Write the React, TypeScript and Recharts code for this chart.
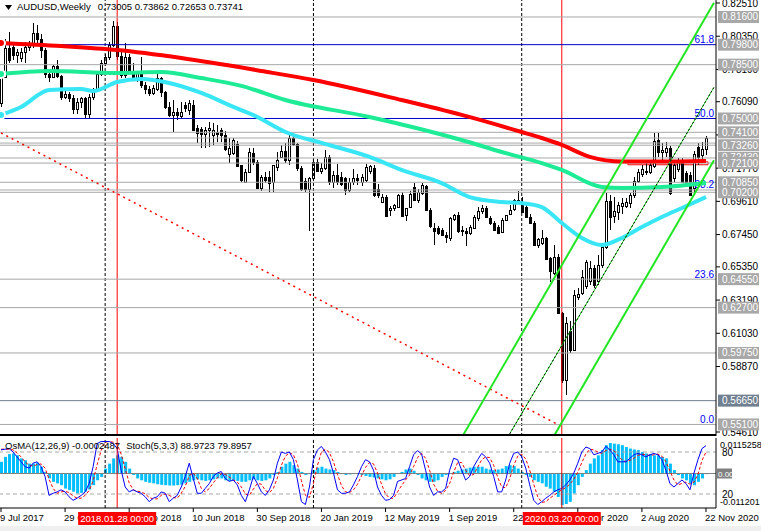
import React from 'react';
import { ComposedChart, Bar, Line, XAxis, YAxis, ReferenceLine, ReferenceArea } from 'recharts';

// weekly AUDUSD candles, Jul 2017 .. Nov 2020
const opens = [
  0.7600, 0.7770, 0.7960, 0.7965, 0.7915, 0.7895, 0.7935, 0.7965, 0.7985, 0.8055,
  0.8020, 0.7945, 0.7790, 0.7770, 0.7840, 0.7775, 0.7640, 0.7660, 0.7630, 0.7560,
  0.7610, 0.7630, 0.7530, 0.7640, 0.7690, 0.7790, 0.7860, 0.7900, 0.7980, 0.8100,
  0.7905, 0.7780, 0.7900, 0.7800, 0.7755, 0.7795, 0.7720, 0.7690, 0.7665, 0.7690,
  0.7760, 0.7670, 0.7575, 0.7525, 0.7540, 0.7515, 0.7585, 0.7555, 0.7585, 0.7435,
  0.7430, 0.7400, 0.7425, 0.7390, 0.7415, 0.7425, 0.7395, 0.7270, 0.7275, 0.7335,
  0.7195, 0.7090, 0.7155, 0.7275, 0.7220, 0.7045, 0.7120, 0.7120, 0.7090, 0.7185,
  0.7250, 0.7290, 0.7230, 0.7370, 0.7335, 0.7180, 0.7095, 0.7040, 0.7110, 0.7220,
  0.7160, 0.7175, 0.7250, 0.7090, 0.7135, 0.7120, 0.7110, 0.7035, 0.7090, 0.7110,
  0.7090, 0.7100, 0.7160, 0.7180, 0.7040, 0.6960, 0.6990, 0.6905, 0.6920, 0.6925,
  0.7000, 0.6870, 0.6925, 0.7055, 0.6970, 0.7015, 0.7060, 0.6905, 0.6785, 0.6785,
  0.6775, 0.6740, 0.6720, 0.6845, 0.6875, 0.6775, 0.6770, 0.6755, 0.6790, 0.6850,
  0.6900, 0.6915, 0.6851, 0.6818, 0.6796, 0.6764, 0.6840, 0.6880, 0.6910, 0.6970,
  0.6955, 0.6925, 0.6862, 0.6820, 0.6680, 0.6690, 0.6720, 0.6590, 0.6495, 0.6600,
  0.6235, 0.5800, 0.6115, 0.5995, 0.6340, 0.6365, 0.6410, 0.6440, 0.6525, 0.6440,
  0.6545, 0.6665, 0.6965, 0.6865, 0.6890, 0.6930, 0.6930, 0.6950, 0.7000, 0.7095,
  0.7140, 0.7160, 0.7150, 0.7190, 0.7360, 0.7280, 0.7285, 0.7305, 0.7110, 0.7170,
  0.7215, 0.7145, 0.7130, 0.7045, 0.7315, 0.7260, 0.7300,
];
const highs = [
  0.7785, 0.8020, 0.8060, 0.7990, 0.7950, 0.7960, 0.7995, 0.8005, 0.8120, 0.8110,
  0.8050, 0.7960, 0.7800, 0.7850, 0.7880, 0.7785, 0.7680, 0.7675, 0.7650, 0.7630,
  0.7640, 0.7640, 0.7660, 0.7700, 0.7810, 0.7880, 0.7920, 0.8000, 0.8135, 0.8130,
  0.7930, 0.7990, 0.7920, 0.7860, 0.7810, 0.7900, 0.7740, 0.7710, 0.7720, 0.7815,
  0.7770, 0.7680, 0.7610, 0.7620, 0.7570, 0.7610, 0.7605, 0.7620, 0.7620, 0.7455,
  0.7445, 0.7445, 0.7480, 0.7470, 0.7460, 0.7440, 0.7420, 0.7370, 0.7370, 0.7355,
  0.7200, 0.7170, 0.7310, 0.7310, 0.7230, 0.7130, 0.7150, 0.7160, 0.7200, 0.7280,
  0.7330, 0.7340, 0.7390, 0.7395, 0.7340, 0.7190, 0.7110, 0.7120, 0.7235, 0.7235,
  0.7210, 0.7295, 0.7260, 0.7160, 0.7205, 0.7150, 0.7120, 0.7110, 0.7170, 0.7140,
  0.7140, 0.7205, 0.7200, 0.7195, 0.7075, 0.7010, 0.7000, 0.6930, 0.6945, 0.7010,
  0.7020, 0.6920, 0.7030, 0.7080, 0.7040, 0.7080, 0.7070, 0.6915, 0.6820, 0.6800,
  0.6790, 0.6760, 0.6860, 0.6880, 0.6895, 0.6800, 0.6790, 0.6810, 0.6870, 0.6925,
  0.6935, 0.6930, 0.6865, 0.6830, 0.6810, 0.6850, 0.6875, 0.6935, 0.6975, 0.7030,
  0.6990, 0.6935, 0.6880, 0.6830, 0.6725, 0.6775, 0.6730, 0.6600, 0.6680, 0.6620,
  0.6240, 0.6210, 0.6180, 0.6385, 0.6400, 0.6515, 0.6580, 0.6570, 0.6545, 0.6615,
  0.6680, 0.7015, 0.7005, 0.6990, 0.6960, 0.6985, 0.6985, 0.7015, 0.7120, 0.7170,
  0.7200, 0.7210, 0.7215, 0.7405, 0.7405, 0.7340, 0.7350, 0.7320, 0.7210, 0.7245,
  0.7240, 0.7160, 0.7150, 0.7290, 0.7340, 0.7350, 0.7386,
];
const lows = [
  0.7575, 0.7760, 0.7860, 0.7880, 0.7860, 0.7870, 0.7860, 0.7940, 0.7960, 0.7990,
  0.7895, 0.7765, 0.7735, 0.7760, 0.7760, 0.7620, 0.7625, 0.7610, 0.7530, 0.7530,
  0.7570, 0.7500, 0.7505, 0.7620, 0.7680, 0.7775, 0.7840, 0.7880, 0.7965, 0.7880,
  0.7760, 0.7760, 0.7790, 0.7745, 0.7740, 0.7700, 0.7660, 0.7645, 0.7650, 0.7680,
  0.7640, 0.7560, 0.7510, 0.7415, 0.7490, 0.7500, 0.7540, 0.7525, 0.7420, 0.7340,
  0.7310, 0.7305, 0.7315, 0.7330, 0.7350, 0.7350, 0.7290, 0.7210, 0.7260, 0.7185,
  0.7085, 0.7080, 0.7150, 0.7195, 0.7040, 0.7030, 0.7080, 0.7020, 0.7020, 0.7160,
  0.7240, 0.7210, 0.7200, 0.7320, 0.7160, 0.7030, 0.7020, 0.6765, 0.7100, 0.7150,
  0.7140, 0.7165, 0.7070, 0.7050, 0.7070, 0.7060, 0.7005, 0.7020, 0.7070, 0.7070,
  0.7060, 0.7090, 0.7140, 0.6990, 0.6985, 0.6950, 0.6865, 0.6865, 0.6900, 0.6915,
  0.6860, 0.6830, 0.6915, 0.6965, 0.6950, 0.7000, 0.6900, 0.6790, 0.6680, 0.6740,
  0.6735, 0.6690, 0.6700, 0.6830, 0.6755, 0.6735, 0.6670, 0.6740, 0.6780, 0.6830,
  0.6880, 0.6850, 0.6810, 0.6770, 0.6750, 0.6755, 0.6830, 0.6870, 0.6900, 0.6945,
  0.6885, 0.6855, 0.6815, 0.6675, 0.6660, 0.6680, 0.6580, 0.6435, 0.6480, 0.6230,
  0.5780, 0.5700, 0.5975, 0.5990, 0.6320, 0.6350, 0.6390, 0.6420, 0.6400, 0.6420,
  0.6530, 0.6650, 0.6775, 0.6820, 0.6840, 0.6880, 0.6920, 0.6920, 0.6985, 0.7080,
  0.7120, 0.7130, 0.7140, 0.7180, 0.7250, 0.7210, 0.7250, 0.7005, 0.7090, 0.7150,
  0.7080, 0.7060, 0.6995, 0.7005, 0.7200, 0.7225, 0.7265,
];
const closes = [
  0.7770, 0.7960, 0.7880, 0.7915, 0.7930, 0.7935, 0.7965, 0.7985, 0.8055, 0.8020,
  0.7945, 0.7790, 0.7770, 0.7840, 0.7775, 0.7640, 0.7660, 0.7630, 0.7560, 0.7610,
  0.7630, 0.7530, 0.7640, 0.7690, 0.7790, 0.7860, 0.7900, 0.7980, 0.8100, 0.7905,
  0.7780, 0.7900, 0.7800, 0.7755, 0.7795, 0.7720, 0.7690, 0.7665, 0.7700, 0.7760,
  0.7670, 0.7575, 0.7525, 0.7540, 0.7525, 0.7545, 0.7570, 0.7600, 0.7425, 0.7405,
  0.7400, 0.7425, 0.7435, 0.7425, 0.7400, 0.7395, 0.7300, 0.7305, 0.7360, 0.7190,
  0.7100, 0.7155, 0.7285, 0.7220, 0.7045, 0.7120, 0.7100, 0.7080, 0.7195, 0.7230,
  0.7290, 0.7230, 0.7370, 0.7335, 0.7180, 0.7040, 0.7040, 0.7110, 0.7220, 0.7160,
  0.7175, 0.7250, 0.7090, 0.7135, 0.7090, 0.7075, 0.7035, 0.7090, 0.7110, 0.7100,
  0.7120, 0.7185, 0.7190, 0.7000, 0.7000, 0.6990, 0.6865, 0.6920, 0.6935, 0.7000,
  0.6865, 0.6915, 0.7010, 0.6970, 0.7020, 0.7070, 0.6905, 0.6800, 0.6765, 0.6755,
  0.6745, 0.6730, 0.6850, 0.6870, 0.6765, 0.6765, 0.6755, 0.6795, 0.6860, 0.6900,
  0.6915, 0.6860, 0.6818, 0.6775, 0.6753, 0.6840, 0.6870, 0.6905, 0.6970, 0.6955,
  0.6895, 0.6862, 0.6820, 0.6680, 0.6715, 0.6720, 0.6585, 0.6505, 0.6600, 0.6235,
  0.5800, 0.6170, 0.5995, 0.6350, 0.6360, 0.6470, 0.6565, 0.6525, 0.6420, 0.6545,
  0.6665, 0.6965, 0.6860, 0.6900, 0.6935, 0.6950, 0.6960, 0.7000, 0.7095, 0.7150,
  0.7170, 0.7155, 0.7195, 0.7355, 0.7280, 0.7295, 0.7305, 0.7015, 0.7195, 0.7215,
  0.7090, 0.7080, 0.7005, 0.7270, 0.7250, 0.7300, 0.7374,
];

// moving averages, read at a few bars and joined by the library's curve
const redMaIdx = [0, 15, 29, 45, 65, 78, 100, 115, 130, 135, 140, 147, 155, 165, 176];
const redMaVal = [0.7991, 0.7971, 0.7945, 0.7893, 0.7809, 0.7750, 0.7620, 0.7523, 0.7412, 0.7373, 0.7328, 0.7250, 0.7220, 0.7220, 0.7224];
const greenMaIdx = [0, 12, 29, 40, 50, 60, 71, 92, 115, 125, 135, 140, 150, 155, 165, 176];
const greenMaVal = [0.7789, 0.7809, 0.7796, 0.7802, 0.7763, 0.7712, 0.7620, 0.7510, 0.7360, 0.7282, 0.7210, 0.7165, 0.7054, 0.7048, 0.7054, 0.7080];
const cyanMaIdx = [0, 5, 12, 20, 23, 29, 35, 42, 50, 58, 64, 71, 80, 92, 100, 110, 117, 125, 130, 135, 140, 145, 150, 155, 160, 165, 170, 176];
const cyanMaVal = [0.7523, 0.7575, 0.7685, 0.7692, 0.7679, 0.7737, 0.7757, 0.7731, 0.7666, 0.7575, 0.7510, 0.7412, 0.7341, 0.7250, 0.7165, 0.7080, 0.6989, 0.6957, 0.6950, 0.6924, 0.6820, 0.6723, 0.6677, 0.6723, 0.6794, 0.6859, 0.6918, 0.6989];

// OsMA(12,26,9) in units of 1e-4
const osmaE4 = [
  38, 54, 63, 65, 59, 49, 43, 32, 32, 35, 22, 5, -16, -27, -32, -38, -49, -54, -59, -65,
  -63, -59, -52, -38, -22, -11, 16, 32, 49, 59, 54, 38, 16, -5, -16, -22, -27, -30, -32, -35,
  -37, -38, -39, -39, -38, -36, -32, -27, -22, -19, -22, -24, -22, -19, -16, -16, -22, -24, -22, -24,
  -27, -27, -22, -19, -22, -24, -22, -16, -5, 5, 22, 32, 38, 27, 16, 5, -5, -2, 11, 19,
  22, 16, 13, 11, 5, -2, -5, -3, 0, -2, -5, -8, -11, -13, -16, -19, -22, -19, -11, 0,
  5, 13, 16, 9, -5, -16, -22, -27, -27, -22, -11, -5, 0, 5, 9, 13, 16, 19, 22, 22,
  22, 16, 13, 11, 13, 16, 24, 27, 24, 16, 5, -5, -11, -22, -27, -32, -43, -49, -59, -76,
  -103, -99, -92, -65, -38, -11, 11, 32, 49, 59, 76, 92, 99, 97, 95, 92, 86, 81, 78, 76,
  70, 65, 63, 59, 59, 54, 49, 32, 11, -5, -16, -22, -32, -38, -27, -16, -2,
];
const stochMain = [
  83, 84, 85, 80, 73, 66, 59, 57, 64, 66, 59, 45, 18, 21, 23, 26, 23, 16, 11, 14,
  18, 23, 35, 59, 92, 95, 95, 95, 92, 85, 54, 30, 23, 26, 23, 21, 16, 9, 14, 16,
  23, 21, 9, 14, 18, 30, 45, 64, 42, 21, 21, 28, 35, 45, 50, 52, 42, 38, 40, 33,
  18, 9, 26, 45, 35, 23, 18, 26, 40, 64, 80, 78, 80, 69, 40, 9, 5, 30, 69, 83,
  88, 80, 69, 50, 26, 21, 21, 23, 33, 45, 59, 69, 66, 54, 30, 18, 11, 12, 18, 38,
  40, 42, 59, 76, 82, 77, 54, 30, 18, 23, 23, 28, 54, 71, 69, 54, 40, 45, 59, 69,
  78, 73, 64, 45, 23, 23, 40, 64, 78, 80, 73, 57, 33, 11, 5, 9, 14, 18, 23, 26,
  28, 33, 40, 50, 64, 80, 87, 85, 76, 78, 80, 88, 83, 76, 66, 66, 66, 71, 76, 78,
  76, 73, 76, 78, 76, 69, 54, 35, 30, 35, 40, 35, 26, 50, 69, 85, 89,
];
const stochSignal = [
  84, 84, 84, 83, 79, 73, 66, 61, 60, 62, 63, 57, 41, 28, 21, 23, 24, 22, 17, 14,
  14, 18, 25, 39, 62, 82, 94, 95, 94, 91, 77, 56, 36, 26, 24, 23, 20, 15, 13, 13,
  18, 20, 18, 15, 14, 21, 31, 46, 50, 42, 28, 23, 28, 36, 43, 49, 48, 44, 40, 37,
  30, 20, 18, 27, 35, 34, 25, 22, 28, 43, 61, 74, 79, 76, 63, 39, 18, 15, 35, 61,
  80, 84, 79, 66, 48, 32, 23, 22, 26, 34, 46, 58, 65, 63, 50, 34, 20, 14, 14, 23,
  32, 40, 47, 59, 72, 78, 71, 54, 34, 24, 21, 25, 35, 51, 65, 65, 54, 46, 48, 58,
  69, 73, 72, 61, 44, 30, 29, 42, 61, 74, 77, 70, 54, 34, 16, 8, 9, 14, 18, 22,
  26, 29, 34, 41, 51, 65, 77, 84, 83, 80, 78, 82, 84, 82, 75, 69, 66, 68, 71, 75,
  77, 76, 75, 76, 77, 74, 66, 53, 40, 33, 35, 37, 34, 37, 48, 68, 80,
];

// price scale and horizontal levels
const priceTicks = [0.8251, 0.8035, 0.7819, 0.7609, 0.7393, 0.7177, 0.6961, 0.6745, 0.6535, 0.6319, 0.6103, 0.5887, 0.5461];
const grayLevels = [0.816, 0.785, 0.741, 0.7326, 0.7243, 0.721, 0.7085, 0.702, 0.6455, 0.627, 0.5975, 0.551];
const plainLevels = [0.7373, 0.734, 0.7035];
const blueLevels = [0.798, 0.75];
const supportLevels = [0.5665];
const fibLevels = [0.798, 0.75, 0.7035, 0.6455, 0.551];
const fibNames = ['61.8', '50.0', '38.2', '23.6', '0.0'];

// trend lines and the red box: [bar index, price] anchors
const channelUpperIdx = [115, 178];
const channelUpperPrice = [0.5424, 0.8252];
const channelLowerIdx = [138, 178];
const channelLowerPrice = [0.5433, 0.7229];
const channelMidIdx = [127, 178];
const channelMidPrice = [0.5449, 0.7703];
const trendRedIdx = [0, 139];
const trendRedPrice = [0.7406, 0.551];
const rangeBoxIdx = [157, 176];
const rangeBoxPrice = [0.7199, 0.7218];

// time markers
const dashedMarks = [26, 78, 130];
const redMarks = [29, 140];
const redMarkNames = ['2018.01.28 00:00', '2020.03.20 00:00'];
const timeTickIdx = [0, 16, 32, 48, 64, 80, 96, 112, 128, 144, 160, 176];
const timeTickNames = ['9 Jul 2017', '29 Oct 2017', '18 Feb 2018', '10 Jun 2018', '30 Sep 2018', '20 Jan 2019',
  '12 May 2019', '1 Sep 2019', '22 Dec 2019', '12 Apr 2020', '2 Aug 2020', '22 Nov 2020'];

const SLOTS = 179;
const PMAX = 0.82705;
const PMIN = 0.5435;
const OSMA_MAX = 115.258;
const OSMA_MIN = -112.01;
const FONT = '"Liberation Sans", Arial, sans-serif';

const at = (idx: number[], val: number[], i: number) => {
  const k = idx.indexOf(i);
  return k >= 0 ? val[k] : null;
};

const rows = Array.from({ length: SLOTS }, (_, i) => {
  const has = i < opens.length;
  return {
    i,
    o: has ? opens[i] : null,
    h: has ? highs[i] : null,
    l: has ? lows[i] : null,
    c: has ? closes[i] : null,
    range: has ? [lows[i], highs[i]] : null,
    redMa: at(redMaIdx, redMaVal, i),
    greenMa: at(greenMaIdx, greenMaVal, i),
    cyanMa: at(cyanMaIdx, cyanMaVal, i),
    osma: has ? osmaE4[i] : null,
    stoch: has ? stochMain[i] : null,
    signal: has ? stochSignal[i] : null,
  };
});

const Candle = (props: any) => {
  const { x, y, width, height, payload } = props;
  if (!payload || payload.o == null) return null;
  const { o, h, l, c } = payload;
  const left = Math.round(x + width / 2 - 1.5);
  const span = h - l || 1e-9;
  const yOf = (v: number) => y + ((h - v) / span) * height;
  const top = Math.round(yOf(Math.max(o, c)));
  const bot = Math.round(yOf(Math.min(o, c)));
  const bull = c >= o;
  return (
    <g shapeRendering="crispEdges">
      <line x1={left + 1.5} x2={left + 1.5} y1={Math.round(y)} y2={Math.round(y + height)} stroke="#000" />
      <rect x={left + 0.5} y={top + 0.5} width={2} height={Math.max(bot - top, 1)} fill={bull ? '#fff' : '#000'} stroke="#000" />
    </g>
  );
};

// price tick: small mark on the axis plus the number, drawn before the level boxes
const priceTick = (text: string) => (props: any) => {
  const vb = props.viewBox || {};
  const ax = vb.x + vb.width;
  return (
    <g>
      <line x1={ax} x2={ax + 4} y1={vb.y} y2={vb.y} stroke="#000" />
      <text x={ax + 6} y={vb.y + 3.5} fontSize={10} fontFamily={FONT} fill="#000">{text}</text>
    </g>
  );
};

const levelBox = (text: string, bg: string) => (props: any) => {
  const vb = props.viewBox || {};
  const x = vb.x + vb.width + 2;
  const y = vb.y;
  return (
    <g>
      <rect x={x} y={y - 6} width={41} height={12} fill={bg} />
      <text x={x + 4} y={y + 3.5} fontSize={10} fontFamily={FONT} fill="#fff">{text}</text>
    </g>
  );
};

const fibText = (text: string) => (props: any) => {
  const vb = props.viewBox || {};
  return (
    <text x={vb.x + vb.width - 2} y={vb.y - 1.5} textAnchor="end" fontSize={10} fontFamily={FONT} fill="#0000FF">{text}</text>
  );
};

const timeLabel = (text: string) => (props: any) => {
  const vb = props.viewBox || {};
  const bottom = vb.y + vb.height;
  return (
    <g>
      <line x1={vb.x} x2={vb.x} y1={bottom} y2={bottom + 4} stroke="#000" />
      <text x={vb.x - 1} y={bottom + 13} fontSize={9.5} fontFamily={FONT} fill="#000">{text}</text>
    </g>
  );
};

const timeFlag = (text: string) => (props: any) => {
  const vb = props.viewBox || {};
  const bottom = vb.y + vb.height;
  return (
    <g>
      <rect x={vb.x - 39} y={bottom + 4} width={78} height={13} fill="#FF0000" />
      <text x={vb.x} y={bottom + 14} textAnchor="middle" fontSize={9.5} fontFamily={FONT} fill="#fff">{text}</text>
    </g>
  );
};

const OsmaTick = (props: any) => {
  const { x, y, payload } = props;
  const top = payload.value > 0;
  return (
    <text x={x} y={top ? y + 9.5 : y - 3.5} fontSize={9} fontFamily={FONT} fill="#000">
      {top ? '0.0115258' : '-0.011201'}
    </text>
  );
};

const sideText = (text: string) => (props: any) => {
  const vb = props.viewBox || {};
  return (
    <text x={vb.x + vb.width + 6} y={vb.y + 3.5} fontSize={10} fontFamily={FONT} fill="#000">{text}</text>
  );
};

const zeroBox = (props: any) => {
  const vb = props.viewBox || {};
  const x = vb.x + vb.width + 1;
  return (
    <g>
      <rect x={x} y={vb.y - 5} width={15} height={10} fill="#808080" />
      <text x={x + 1} y={vb.y + 3} fontSize={8} fontFamily={FONT} fill="#fff">0.00</text>
    </g>
  );
};

const MainChart = () => (
  <ComposedChart width={762} height={437} data={rows} margin={{ top: 0, right: 0, bottom: 1, left: 0 }}>
    <XAxis dataKey="i" type="category" hide />
    <YAxis
      orientation="right"
      type="number"
      width={45}
      domain={[PMIN, PMAX]}
      allowDataOverflow
      ticks={priceTicks}
      axisLine={{ stroke: '#000' }}
      tickLine={false}
      tick={false}
    />
    {dashedMarks.map((m) => (
      <ReferenceLine key={`d${m}`} x={m} stroke="#000" strokeDasharray="3 2" />
    ))}
    {redMarks.map((m) => (
      <ReferenceLine key={`r${m}`} x={m} stroke="#FF0000" />
    ))}
    {priceTicks.map((v) => (
      <ReferenceLine key={`t${v}`} y={v} stroke="none" label={priceTick(v.toFixed(5))} />
    ))}
    {plainLevels.map((v) => (
      <ReferenceLine key={`p${v}`} y={v} stroke="#A8A8A8" />
    ))}
    {grayLevels.map((v) => (
      <ReferenceLine key={`g${v}`} y={v} stroke="#A8A8A8" label={levelBox(v.toFixed(5), '#A8A8A8')} />
    ))}
    {supportLevels.map((v) => (
      <ReferenceLine key={`s${v}`} y={v} stroke="#708090" label={levelBox(v.toFixed(5), '#708090')} />
    ))}
    {blueLevels.map((v) => (
      <ReferenceLine key={`b${v}`} y={v} stroke="#0000C8" label={levelBox(v.toFixed(5), '#A8A8A8')} />
    ))}
    {fibLevels.map((v, k) => (
      <ReferenceLine key={`f${v}`} y={v} stroke="none" label={fibText(fibNames[k])} />
    ))}
    <ReferenceLine
      ifOverflow="hidden"
      segment={[{ x: trendRedIdx[0], y: trendRedPrice[0] }, { x: trendRedIdx[1], y: trendRedPrice[1] }]}
      stroke="#FF0000"
      strokeWidth={1.5}
      strokeDasharray="2 4"
    />
    <Bar dataKey="range" barSize={3} shape={(p: any) => <Candle {...p} />} isAnimationActive={false} />
    <Line dataKey="redMa" type="monotone" stroke="#FF0000" strokeWidth={4} dot={false} connectNulls isAnimationActive={false} />
    <Line dataKey="greenMa" type="monotone" stroke="#1EEB96" strokeWidth={4} dot={false} connectNulls isAnimationActive={false} />
    <Line dataKey="cyanMa" type="monotone" stroke="#38E6F5" strokeWidth={4} dot={false} connectNulls isAnimationActive={false} />
    <ReferenceArea
      x1={rangeBoxIdx[0]}
      x2={rangeBoxIdx[1]}
      y1={rangeBoxPrice[0]}
      y2={rangeBoxPrice[1]}
      fill="#fff"
      fillOpacity={1}
      stroke="#FF0000"
      strokeWidth={1}
    />
    <ReferenceLine
      ifOverflow="hidden"
      segment={[{ x: channelUpperIdx[0], y: channelUpperPrice[0] }, { x: channelUpperIdx[1], y: channelUpperPrice[1] }]}
      stroke="#22E622"
      strokeWidth={2}
    />
    <ReferenceLine
      ifOverflow="hidden"
      segment={[{ x: channelLowerIdx[0], y: channelLowerPrice[0] }, { x: channelLowerIdx[1], y: channelLowerPrice[1] }]}
      stroke="#22E622"
      strokeWidth={2}
    />
    <ReferenceLine
      ifOverflow="hidden"
      segment={[{ x: channelMidIdx[0], y: channelMidPrice[0] }, { x: channelMidIdx[1], y: channelMidPrice[1] }]}
      stroke="#22E622"
      strokeWidth={1}
    />
    <ReferenceLine
      ifOverflow="hidden"
      segment={[{ x: channelMidIdx[0], y: channelMidPrice[0] }, { x: channelMidIdx[1], y: channelMidPrice[1] }]}
      stroke="#000"
      strokeWidth={1}
      strokeDasharray="2 2"
    />
  </ComposedChart>
);

const SubChart = () => (
  <ComposedChart width={762} height={90} data={rows} margin={{ top: 1, right: 0, bottom: 0, left: 0 }}>
    <XAxis dataKey="i" type="category" height={19} axisLine={{ stroke: '#000' }} tickLine={false} tick={false} />
    <YAxis
      yAxisId="osma"
      orientation="right"
      type="number"
      width={45}
      domain={[OSMA_MIN, OSMA_MAX]}
      allowDataOverflow
      ticks={[OSMA_MAX, OSMA_MIN]}
      interval={0}
      axisLine={{ stroke: '#000' }}
      tickLine={false}
      tickSize={0}
      tickMargin={4}
      tick={(p: any) => <OsmaTick {...p} />}
    />
    <YAxis yAxisId="stoch" hide type="number" domain={[0, 100]} />
    <ReferenceLine yAxisId="stoch" y={80} stroke="#A8A8A8" strokeDasharray="4 3" label={sideText('80')} />
    <ReferenceLine yAxisId="stoch" y={20} stroke="#A8A8A8" strokeDasharray="4 3" label={sideText('20')} />
    <ReferenceLine yAxisId="osma" y={0} stroke="#808080" label={zeroBox} />
    {dashedMarks.map((m) => (
      <ReferenceLine key={`sd${m}`} yAxisId="osma" x={m} stroke="#000" strokeDasharray="3 2" />
    ))}
    {timeTickIdx.map((m, k) => (
      <ReferenceLine key={`tt${m}`} yAxisId="osma" x={m} stroke="none" label={timeLabel(timeTickNames[k])} />
    ))}
    <Bar yAxisId="osma" dataKey="osma" barSize={3} fill="#00BFFF" isAnimationActive={false} />
    <Line yAxisId="stoch" dataKey="signal" type="linear" stroke="#FF0000" strokeWidth={1} strokeDasharray="3 2" dot={false} isAnimationActive={false} />
    <Line yAxisId="stoch" dataKey="stoch" type="linear" stroke="#0000FF" strokeWidth={1} dot={false} isAnimationActive={false} />
    {redMarks.map((m, k) => (
      <ReferenceLine key={`sr${m}`} yAxisId="osma" x={m} stroke="#FF0000" label={timeFlag(redMarkNames[k])} />
    ))}
  </ComposedChart>
);

export default function App() {
  return (
    <div style={{ position: 'absolute', left: 0, top: 0, width: 761, height: 531, overflow: 'hidden', background: '#fff', fontFamily: FONT }}>
      <div style={{ position: 'absolute', left: -1, top: 0 }}>
        <MainChart />
      </div>
      <div style={{ position: 'absolute', left: -1, top: 437 }}>
        <SubChart />
      </div>
      <div style={{ position: 'absolute', left: 0, top: 434, width: 716, height: 2, background: '#000' }} />
      <div style={{ position: 'absolute', left: 0, top: 526, width: 761, height: 5, background: '#F0F0F0' }} />
      <div style={{ position: 'absolute', left: 4, top: 1, fontSize: 9.5, lineHeight: '12px', color: '#000', whiteSpace: 'pre', display: 'flex', alignItems: 'center' }}>
        <svg width={12} height={12}>
          <polygon points="1,4 8,4 4.5,9" fill="#000" />
        </svg>
        <span style={{ marginLeft: 1 }}>AUDUSD,Weekly</span>
        <span style={{ marginLeft: 7 }}>0.73005 0.73862 0.72653 0.73741</span>
      </div>
      <div style={{ position: 'absolute', left: 5, top: 440, fontSize: 9.5, lineHeight: '12px', color: '#000', whiteSpace: 'pre' }}>
        <span>OsMA(12,26,9) -0.0002487</span>
        <span style={{ marginLeft: 6 }}>Stoch(5,3,3) 88.9723 79.8957</span>
      </div>
    </div>
  );
}
